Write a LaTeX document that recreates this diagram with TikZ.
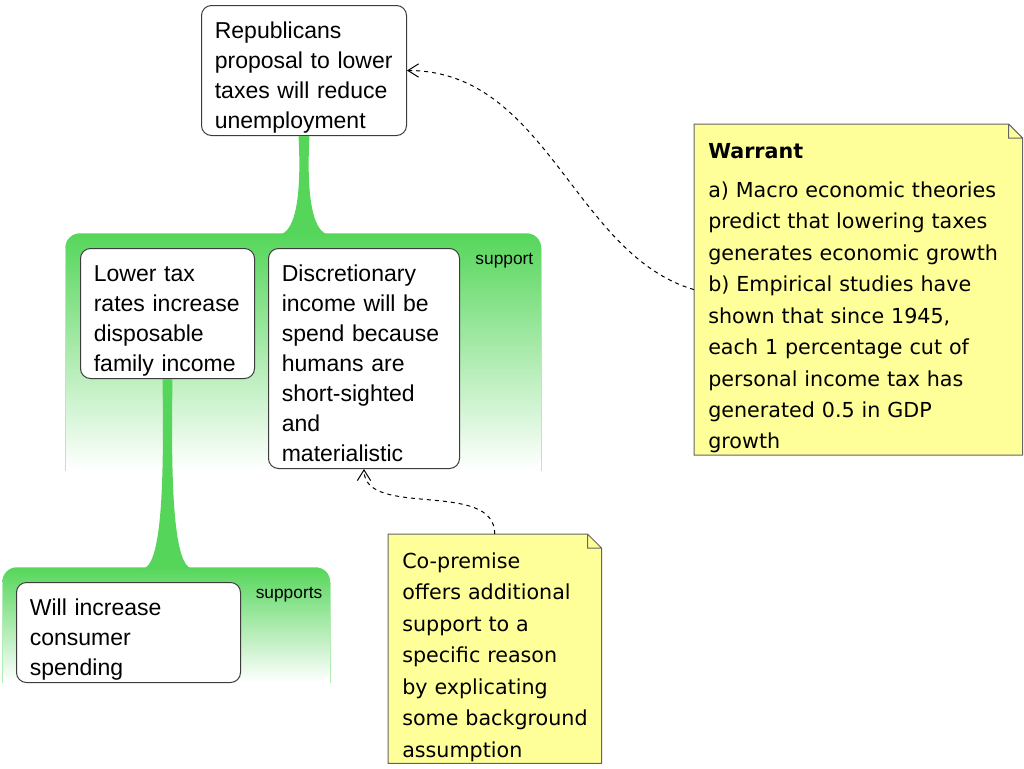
\documentclass[tikz,border=0pt]{standalone}
\usepackage{fontspec}
\setmainfont{Liberation Sans}
\newfontfamily\notefont{DejaVu Sans}
\usepackage{xcolor}
\usetikzlibrary{shapes, arrows.meta, positioning, calc}
\hyphenpenalty=10000
\exhyphenpenalty=10000

\definecolor{grn}{RGB}{85,214,90}
\definecolor{notefill}{RGB}{255,255,153}
\definecolor{noteline}{RGB}{100,100,100}
\definecolor{boxline}{RGB}{60,60,60}

\begin{document}
\begin{tikzpicture}[x=0.75pt, y=-0.75pt,
    box/.style={draw=boxline, line width=0.75pt, fill=white, rounded corners=7.5pt, anchor=north west, align=left,
        inner xsep=10pt, inner ysep=0pt, font=\fontsize{17.25}{22.5}\selectfont,
        execute at begin node={\rule{0pt}{24.75pt}}, execute at end node={\rule[-5.25pt]{0pt}{0pt}}},
    group/.style={anchor=north west, rounded corners=11pt, top color=grn, bottom color=white, inner sep=0pt},
    lbl/.style={inner sep=0pt, font=\fontsize{13}{15}\selectfont},
    note/.style={fill=notefill, anchor=north west, align=left, inner xsep=10.5pt, inner ysep=0pt,
        font=\notefont\fontsize{15.5}{23.6}\selectfont,
        execute at begin node={\rule{0pt}{25.5pt}}, execute at end node={\rule[-4.5pt]{0pt}{0pt}}},
    link/.style={dashed, line width=0.75pt, -{Straight Barb[length=8pt,width=10pt]}}]
    \useasboundingbox (0,0) rectangle (1024,768);

    % support groups
    \node[group, minimum width=357pt, minimum height=177.75pt] (grp1) at (65,233) {};
    \node[group, minimum width=246pt, minimum height=86.25pt] (grp2) at (2,567) {};
    \draw[grn!45, line width=0.75pt] ($(grp1.north west)+(0,15)$) -- (grp1.south west)
        ($(grp1.north east)+(0,15)$) -- (grp1.south east);
    \draw[grn!45, line width=0.75pt] ($(grp2.north west)+(0,15)$) -- (grp2.south west)
        ($(grp2.north east)+(0,15)$) -- (grp2.south east);
    \node[lbl, below left=15pt and 6pt of grp1.north east] (lbl1) {support};
    \node[lbl, below left=15pt and 6pt of grp2.north east] (lbl2) {supports};

    % claim and reasons
    \node[box, text width=133.75pt] (claim) at (201,5) {Republicans\\proposal to lower\\taxes will reduce\\unemployment};
    \node[box, text width=110.5pt] (lower) at (80,248) {Lower tax\\rates increase\\disposable\\family income};
    \node[box, text width=123.25pt] (disc) at (268,248) {Discretionary\\income will be\\spend because\\humans are\\short-sighted\\and\\materialistic};
    \node[box, text width=148pt] (spend) at (16,582) {Will increase\\consumer\\spending};

    % stems
    \fill[grn] ($(claim.south)+(-5.5,0)$) .. controls +(2.5,45) and +(22,0) .. ($(claim.south |- grp1.north)+(-27,2)$)
        -- ($(claim.south |- grp1.north)+(27,2)$) .. controls +(-22,0) and +(-2.5,45) .. ($(claim.south)+(5.5,0)$) -- cycle;
    \fill[grn] ($(lower.south)+(-5,0)$) .. controls +(1.5,100) and +(21,0) .. ($(lower.south |- grp2.north)+(-26,2)$)
        -- ($(lower.south |- grp2.north)+(26,2)$) .. controls +(-21,0) and +(-1.5,100) .. ($(lower.south)+(5,0)$) -- cycle;

    % notes
    \node[note, text width=225pt] (warrant) at (694,124) {\textbf{Warrant}\\[5.6pt]a) Macro~economic~theories\\predict~that~lowering~taxes\\generates~economic~growth\\b) Empirical~studies~have\\shown~that~since~1945,\\each~1~percentage~cut~of\\personal~income~tax~has\\generated~0.5~in~GDP\\growth};
    \node[note, text width=138.75pt] (copremise) at (388,534) {Co-premise\\offers~additional\\support~to~a\\specific~reason\\by~explicating\\some~background\\assumption};
    \foreach \n in {warrant, copremise} {
        \fill[white] ($(\n.north east)+(-14,0)$) -- (\n.north east) -- ($(\n.north east)+(0,14)$) -- cycle;
        \draw[noteline, line width=0.75pt] (\n.north west) -- ($(\n.north east)+(-14,0)$) -- ($(\n.north east)+(0,14)$)
            -- (\n.south east) -- (\n.south west) -- cycle
            ($(\n.north east)+(-14,0)$) -- ($(\n.north east)+(-14,14)$) -- ($(\n.north east)+(0,14)$);
    }

    % links
    \draw[link] (warrant.west) .. controls +(-120,-35) and +(140,0) .. (claim.east);
    \draw[link] (copremise.north) .. controls +(0,-55) and +(0,50) .. (disc.south);
\end{tikzpicture}
\end{document}
